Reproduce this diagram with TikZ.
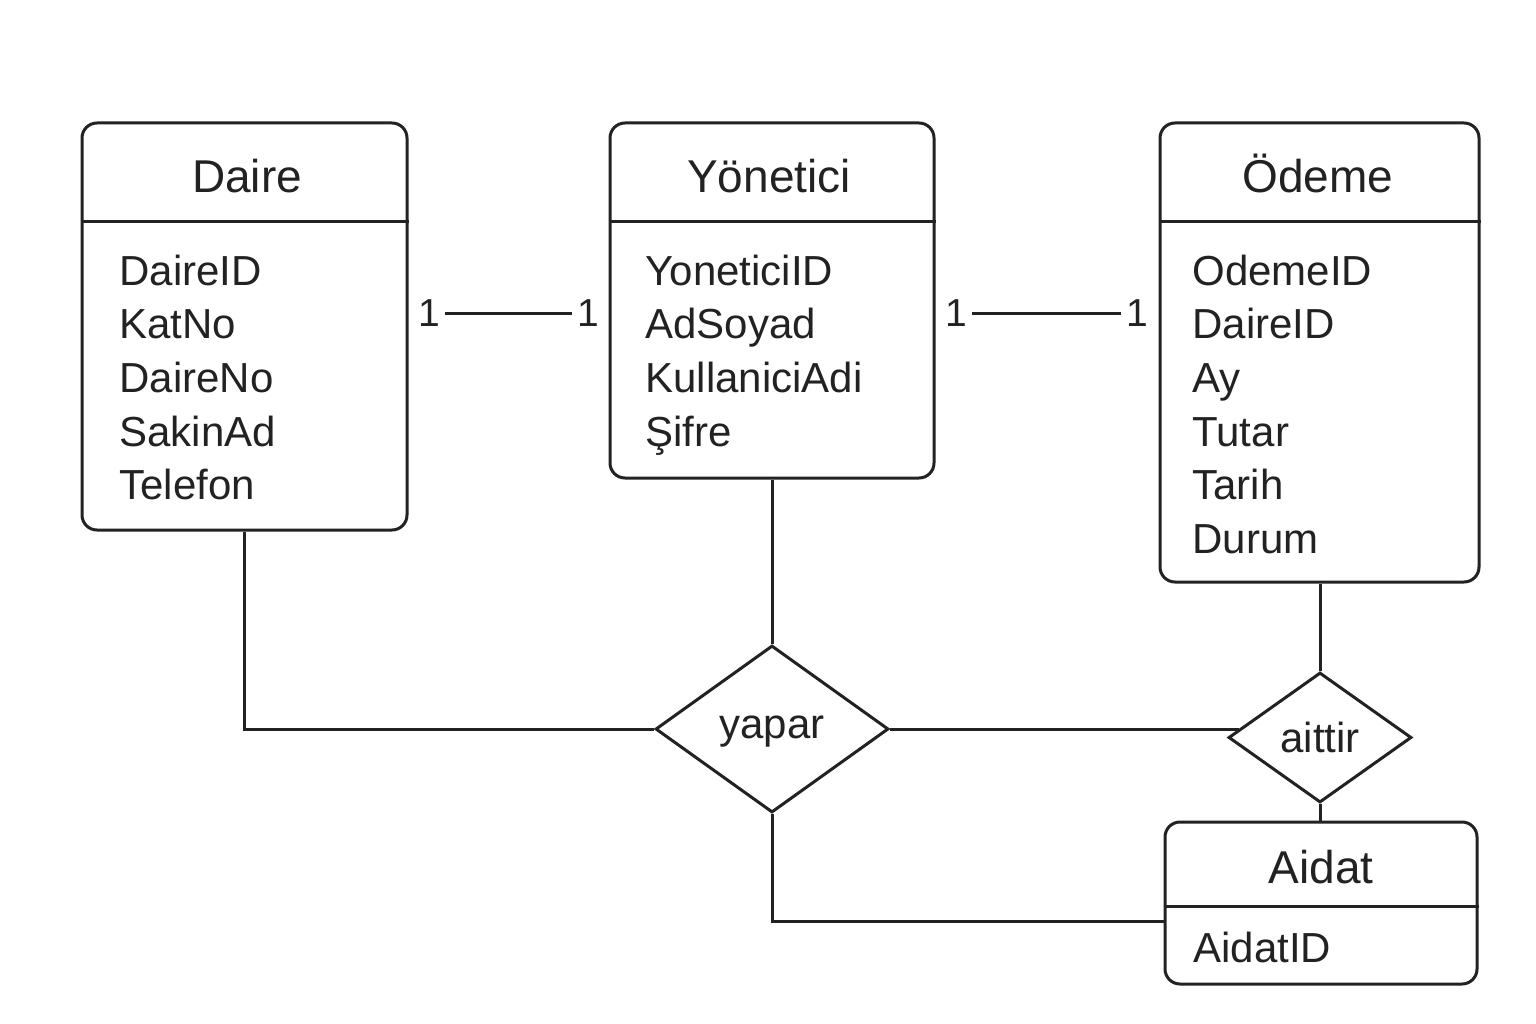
\documentclass[tikz,border=0pt]{standalone}
\usepackage{fontspec}
\setmainfont{Liberation Sans}
\usetikzlibrary{shapes.geometric,calc}
\definecolor{ink}{HTML}{222222}
\begin{document}
\begin{tikzpicture}[x=1pt,y=-1pt,line width=3pt,color=ink,
  entity/.style={draw, rounded corners=15pt, inner sep=0pt},
  title/.style={anchor=base, inner sep=0pt, font=\fontsize{46}{54}\selectfont},
  attr/.style={anchor=base west, inner sep=0pt, font=\fontsize{42}{50}\selectfont},
  rel/.style={draw, diamond, inner sep=0pt, font=\fontsize{42}{50}\selectfont},
  card/.style={inner sep=4pt, font=\fontsize{39}{44}\selectfont},
  conn/.style={draw, line cap=butt}]
\useasboundingbox[fill=white] (0,0) rectangle (1536,1024);

% Entities
\node[entity, minimum width=325pt, minimum height=407pt] (daire) at (244.5,326.5) {};
\node[entity, minimum width=324pt, minimum height=355pt] (yon) at (772,300.5) {};
\node[entity, minimum width=319pt, minimum height=459pt] (odeme) at (1319.5,352.5) {};
\node[entity, minimum width=312pt, minimum height=162pt] (aidat) at (1321,903) {};

% Header separators
\draw (daire.west |- 0,222) -- (daire.east |- 0,222);
\draw (yon.west |- 0,222) -- (yon.east |- 0,222);
\draw (odeme.west |- 0,222) -- (odeme.east |- 0,222);
\draw (aidat.west |- 0,906) -- (aidat.east |- 0,906);

% Titles
\node[title] (tdaire) at (247,193) {Daire};
\node[title] (tyon) at (769,193) {Yönetici};
\node[title] (todeme) at (1318,193) {Ödeme};
\node[title] (taidat) at (1321,883) {Aidat};

% Daire attributes
\node[attr] (d1) at (118,285) {DaireID};
\node[attr] (d2) at (118,338.7) {KatNo};
\node[attr] (d3) at (118,392.4) {DaireNo};
\node[attr] (d4) at (118,446.1) {SakinAd};
\node[attr] (d5) at (118,499.8) {Telefon};

% Yonetici attributes
\node[attr] (y1) at (644,285) {YoneticiID};
\node[attr] (y2) at (644,338.7) {AdSoyad};
\node[attr] (y3) at (644,392.4) {KullaniciAdi};
\node[attr] (y4) at (644,446.1) {Şifre};

% Odeme attributes
\node[attr] (o1) at (1191,285) {OdemeID};
\node[attr] (o2) at (1191,338.7) {DaireID};
\node[attr] (o3) at (1191,392.4) {Ay};
\node[attr] (o4) at (1191,446.1) {Tutar};
\node[attr] (o5) at (1191,499.8) {Tarih};
\node[attr] (o6) at (1191,553.5) {Durum};

% Aidat attribute
\node[attr] (a1) at (1192,962) {AidatID};

% Relationships
\node[rel, text height=24pt, text depth=6pt, minimum width=233pt, minimum height=167pt] (yapar) at (772,729) {yapar};
\node[rel, minimum width=183pt, minimum height=130pt] (aittir) at (1320,737.5) {aittir};

% Cardinalities
\node[card] (c1) at (429,313) {1};
\node[card] (c2) at (588,313) {1};
\node[card] (c3) at (956,313) {1};
\node[card] (c4) at (1137,313) {1};
\draw[conn] (c1) -- (c2);
\draw[conn] (c3) -- (c4);

% Connectors
\coordinate (aitL) at ($(aittir.west)!0.13!(aittir.north)$);
\draw[conn] (daire.south) |- (yapar.west);
\draw[conn] (yon.south) -- (yapar.north);
\draw[conn] (yapar.east) -- (yapar.east -| aitL);
\draw[conn] (odeme.south -| aittir.north) -- (aittir.north);
\draw[conn] (aittir.south) -- (aittir.south |- aidat.north);
\draw[conn] (yapar.south) |- ([yshift=-18pt]aidat.west);
\end{tikzpicture}
\end{document}
